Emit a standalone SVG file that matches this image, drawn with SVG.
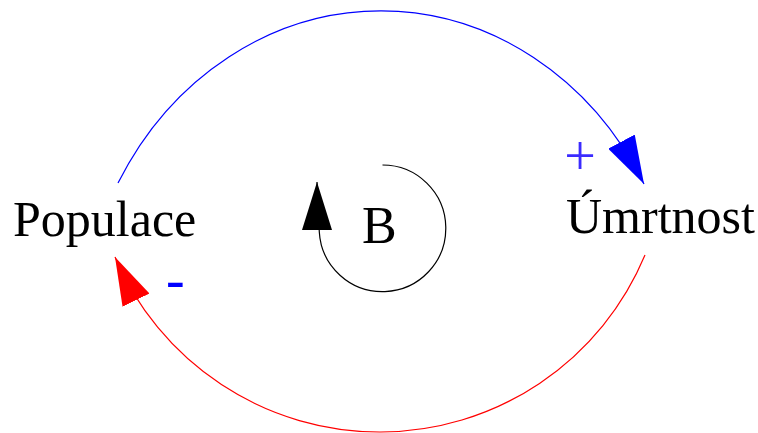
<svg xmlns="http://www.w3.org/2000/svg" width="758" height="433" viewBox="0 0 758 433">
  <style>
    .lbl { font-family: "Liberation Serif", "Times New Roman", serif; fill: #000000; }
    .pol { font-family: "Liberation Serif", "Times New Roman", serif; }
    .link { fill: none; stroke-width: 1.2; }
  </style>
  <defs>
    <marker id="ah-blue" viewBox="0 -15 48 30" refX="48" refY="0" markerWidth="48" markerHeight="30" markerUnits="userSpaceOnUse" orient="62">
      <path d="M0,-15L48,0L0,15Z" fill="#0000ff"/>
    </marker>
    <marker id="ah-red" viewBox="0 -15 48 30" refX="48" refY="0" markerWidth="48" markerHeight="30" markerUnits="userSpaceOnUse" orient="244">
      <path d="M0,-15L48,0L0,15Z" fill="#ff0000"/>
    </marker>
    <marker id="ah-black" viewBox="0 -15 48 30" refX="48" refY="0" markerWidth="48" markerHeight="30" markerUnits="userSpaceOnUse" orient="270">
      <path d="M0,-15L48,0L0,15Z" fill="#000000"/>
    </marker>
  </defs>
  <rect width="758" height="433" fill="#ffffff"/>

  <g id="connectors">
    <path id="link-populace-umrtnost" class="link" stroke="#0000ff" d="M118,183 A301.7,338.5 0 0 1 644,184" marker-end="url(#ah-blue)"/>
    <path id="link-umrtnost-populace" class="link" stroke="#ff0000" d="M645,255 A287.5,287.5 0 0 1 115,257" marker-end="url(#ah-red)"/>
    <path id="loop-arrow" class="link" stroke="#000000" d="M382.5,165 A63.3,63.3 0 1 1 319.3,232 L317,182" marker-end="url(#ah-black)"/>
    <text class="pol" x="580" y="175" font-size="56" text-anchor="middle" fill="#3b2bff">+</text>
    <text class="pol" x="166" y="298" font-size="56" fill="#0000ff">-</text>
  </g>

  <g id="node-populace">
    <text class="lbl" x="13" y="236" font-size="50">Populace</text>
  </g>
  <g id="node-umrtnost">
    <text class="lbl" x="566" y="233" font-size="50">Úmrtnost</text>
  </g>
  <g id="loop-b">
    <text class="lbl" x="362" y="243" font-size="52">B</text>
  </g>
</svg>
